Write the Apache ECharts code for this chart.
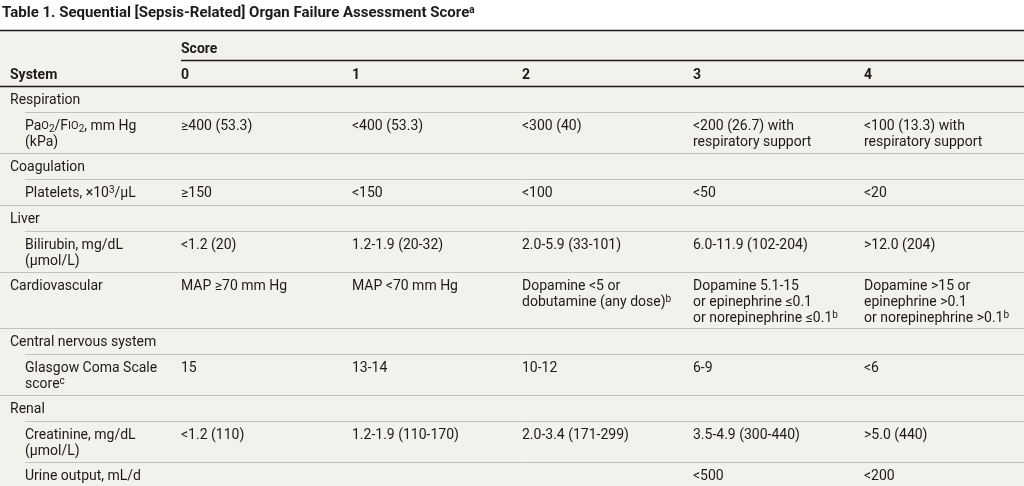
<!DOCTYPE html>
<html><head><meta charset="utf-8">
<script src="https://cdn.jsdelivr.net/npm/echarts@6/dist/echarts.min.js"></script>
<style>html,body{margin:0;padding:0;background:#fff}#c{width:1024px;height:486px}</style>
</head><body><div id="c"></div>
<script>
// ---------- data ----------
const titleText = 'Table 1. Sequential [Sepsis-Related] Organ Failure Assessment Score{tsup|a}';
const groupLabel = 'Score';
const headerLabels = ['System', '0', '1', '2', '3', '4'];
const rowLabels = [
  'Respiration',
  'Pa{sc|O}{sub|2}/F{sc|IO}{sub|2}, mm Hg\n(kPa)',
  'Coagulation',
  'Platelets, ×10{sup|3}/μL',
  'Liver',
  'Bilirubin, mg/dL\n(μmol/L)',
  'Cardiovascular',
  'Central nervous system',
  'Glasgow Coma Scale\nscore{sup|c}',
  'Renal',
  'Creatinine, mg/dL\n(μmol/L)',
  'Urine output, mL/d'
];
const rowIndent = [0, 1, 0, 1, 0, 1, 0, 0, 1, 0, 1, 1];
const score0 = ['', '≥400 (53.3)', '', '≥150', '', '<1.2 (20)', 'MAP ≥70 mm Hg', '', '15', '', '<1.2 (110)', ''];
const score1 = ['', '<400 (53.3)', '', '<150', '', '1.2-1.9 (20-32)', 'MAP <70 mm Hg', '', '13-14', '', '1.2-1.9 (110-170)', ''];
const score2 = ['', '<300 (40)', '', '<100', '', '2.0-5.9 (33-101)', 'Dopamine <5 or\ndobutamine (any dose){sup|b}', '', '10-12', '', '2.0-3.4 (171-299)', ''];
const score3 = ['', '<200 (26.7) with\nrespiratory support', '', '<50', '', '6.0-11.9 (102-204)', 'Dopamine 5.1-15\nor epinephrine ≤0.1\nor norepinephrine ≤0.1{sup|b}', '', '6-9', '', '3.5-4.9 (300-440)', '<500'];
const score4 = ['', '<100 (13.3) with\nrespiratory support', '', '<20', '', '>12.0 (204)', 'Dopamine >15 or\nepinephrine >0.1\nor norepinephrine >0.1{sup|b}', '', '<6', '', '>5.0 (440)', '<200'];

// ---------- style / layout ----------
const FONT = 'Roboto, "Liberation Sans", sans-serif';
const INK = '#1e1a1b';
const BG = '#f3f1eb';
const RULE = '#c4c2bc';
const FS = 14, LH = 16;
const RICH = {
  sup: { fontSize: 10, fontFamily: FONT, fill: INK, lineHeight: 8, verticalAlign: 'top' },
  sub: { fontSize: 10, fontFamily: FONT, fill: INK, lineHeight: 8, verticalAlign: 'bottom' },
  sc: { fontSize: 11, fontFamily: FONT, fill: INK, lineHeight: 16 }
};
const scoreCols = [score0, score1, score2, score3, score4];
const lineCount = s => s ? s.split('\n').length : 1;

// row geometry (grid units = px below top rule)
const scoreRowH = 30, headRowH = 26;
const rowTops = [];
let yCur = scoreRowH + headRowH;
rowLabels.forEach((lab, i) => {
  rowTops.push(yCur);
  let n = lineCount(lab);
  scoreCols.forEach(c => { n = Math.max(n, lineCount(c[i])); });
  yCur += 11 + 15 * n;
});
const rowBottoms = rowTops.map((t, i) => i < rowTops.length - 1 ? rowTops[i + 1] : yCur);

// cells
const cells = [];
cells.push({ col: 0, y: scoreRowH - 19, text: groupLabel, bold: true, indent: 0 });
headerLabels.forEach((h, k) => cells.push({ col: k - 1, y: scoreRowH + headRowH - 19, text: h, bold: true, indent: 0 }));
rowLabels.forEach((lab, i) => {
  cells.push({ col: -1, y: rowTops[i] + 6, text: lab, bold: false, indent: rowIndent[i] });
  scoreCols.forEach((c, k) => { if (c[i]) cells.push({ col: k, y: rowTops[i] + 6, text: c[i], bold: false, indent: 0 }); });
});

// rules
const X_MIN = -1.06, X_MAX = 4.94;
const rules = [];
rules.push({ x0: X_MIN, y: 0, dark: true, indent: 0 });
rules.push({ x0: 0, y: scoreRowH, dark: true, indent: 0 });
rules.push({ x0: X_MIN, y: scoreRowH + headRowH, dark: true, indent: 0 });
for (let i = 0; i < rowLabels.length - 1; i++) {
  rules.push({ x0: X_MIN, y: rowBottoms[i], dark: false, indent: rowIndent[i + 1] });
}

const chart = echarts.init(document.getElementById('c'), null, { renderer: 'canvas' });
chart.setOption({
  animation: false,
  backgroundColor: '#ffffff',
  title: {
    text: titleText, left: 2, top: 5, padding: 0,
    textStyle: {
      fontFamily: FONT, fontSize: 15, fontWeight: 'bold', color: INK, lineHeight: 17,
      rich: { tsup: { fontFamily: FONT, fontSize: 10, fontWeight: 'bold', color: INK, lineHeight: 9, verticalAlign: 'top' } }
    }
  },
  grid: { left: 0, right: 0, top: 30, bottom: 0, show: true, backgroundColor: BG, borderWidth: 0 },
  xAxis: { type: 'value', min: X_MIN, max: X_MAX, show: false },
  yAxis: { type: 'value', min: 0, max: 456, inverse: true, show: false },
  series: [
    {
      type: 'custom', coordinateSystem: 'cartesian2d', clip: false, silent: true,
      data: rules.map((r, i) => [r.x0, r.y, i]),
      renderItem: function (params, api) {
        const r = rules[api.value(2)];
        const p0 = api.coord([api.value(0), api.value(1)]);
        const p1 = api.coord([X_MAX, api.value(1)]);
        const y = r.dark ? p0[1] + 0.5 : Math.round(p0[1]) + 0.5;
        const x0 = Math.round(p0[0]) + (r.indent ? 25 : 0);
        return { type: 'line', shape: { x1: x0, y1: y, x2: p1[0], y2: y },
          style: { stroke: r.dark ? INK : RULE, lineWidth: r.dark ? 1.4 : 1 } };
      }
    },
    {
      type: 'custom', coordinateSystem: 'cartesian2d', clip: false, silent: true,
      data: cells.map((c, i) => [c.col, c.y, i]),
      renderItem: function (params, api) {
        const c = cells[api.value(2)];
        const p = api.coord([api.value(0), api.value(1)]);
        const rich = {};
        Object.keys(RICH).forEach(k => { rich[k] = Object.assign({}, RICH[k], { fontWeight: c.bold ? 'bold' : 'normal' }); });
        return {
          type: 'text', x: Math.round(p[0]) + (c.indent ? 15 : 0), y: Math.round(p[1]),
          style: { text: c.text, fill: INK, fontFamily: FONT, fontSize: FS, fontWeight: c.bold ? 'bold' : 'normal',
            lineHeight: LH, align: 'left', verticalAlign: 'top', rich: rich }
        };
      }
    }
  ]
});
</script></body></html>
